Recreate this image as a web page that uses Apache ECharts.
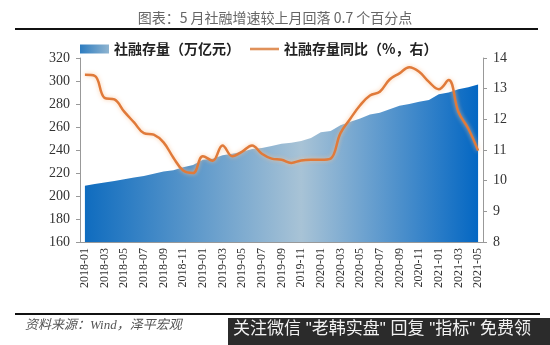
<!DOCTYPE html>
<html><head><meta charset="utf-8">
<script src="https://cdn.jsdelivr.net/npm/echarts@6/dist/echarts.min.js"></script>
<style>html,body{margin:0;padding:0;background:#fff}#c{width:550px;height:345px}</style>
</head><body><div id="c"></div>
<script>
const months = ['2018-01','2018-02','2018-03','2018-04','2018-05','2018-06','2018-07','2018-08','2018-09','2018-10','2018-11','2018-12',
'2019-01','2019-02','2019-03','2019-04','2019-05','2019-06','2019-07','2019-08','2019-09','2019-10','2019-11','2019-12',
'2020-01','2020-02','2020-03','2020-04','2020-05','2020-06','2020-07','2020-08','2020-09','2020-10','2020-11','2020-12',
'2021-01','2021-02','2021-03','2021-04','2021-05'];
const stock = [209.0,210.5,211.8,213.0,214.5,216.0,217.5,219.3,221.2,222.5,225.0,227.0,
231.5,232.5,235.5,236.8,238.5,240.8,241.8,243.5,245.5,246.3,247.8,250.5,
255.5,256.5,261.5,264.5,267.5,270.8,272.5,275.5,278.5,280.0,282.0,283.5,
288.5,290.0,292.8,294.5,297.0];
const yoy = [13.45,13.42,12.7,12.65,12.25,11.9,11.55,11.5,11.25,10.75,10.33,10.25,
10.8,10.65,11.15,10.8,10.95,11.15,10.88,10.72,10.68,10.58,10.66,10.68,
10.68,10.72,11.55,12.02,12.46,12.78,12.9,13.3,13.5,13.7,13.55,13.22,
12.98,13.28,12.24,11.7,10.98];
const leftTicks = [160,320,20];
const rightTicks = [8,14,1];
const nameStock = '社融存量（万亿元）';
const nameYoy = '社融存量同比（%，右）';

const grad = new echarts.graphic.LinearGradient(0,0,1,0,[
  {offset:0,color:'#0f6cbf'},{offset:0.55,color:'#a8c3d6'},{offset:1,color:'#0467c3'}]);
const gradLegend = new echarts.graphic.LinearGradient(0,0,1,0,[
  {offset:0,color:'#2c7cc0'},{offset:1,color:'#8fb4d0'}]);

const chart = echarts.init(document.getElementById('c'));
chart.setOption({
  animation:false,
  title:{text:'图表：5 月社融增速较上月回落 0.7 个百分点',left:'center',top:6,
    textStyle:{fontSize:14,fontWeight:'normal',color:'#666',fontFamily:'"Noto Sans CJK SC"'}},
  legend:{left:75,top:37,itemGap:10,
    textStyle:{fontSize:14,fontWeight:'bold',color:'#222',fontFamily:'"Noto Sans CJK SC"'},
    data:[{name:nameStock,icon:'rect',itemStyle:{color:gradLegend}},
          {name:nameYoy,icon:'path://M0,0 L28,0 L28,2.5 L0,2.5 Z',itemStyle:{color:'#e0915a'}}],
    itemWidth:29,itemHeight:9},
  grid:{left:80,right:67,top:58,bottom:103},
  xAxis:{type:'category',data:months,boundaryGap:true,
    axisLine:{lineStyle:{color:'#999'}},
    axisTick:{interval:1,length:4,lineStyle:{color:'#999'}},
    axisLabel:{interval:1,rotate:90,fontSize:12,color:'#333',fontFamily:'"Liberation Serif"',margin:6}},
  yAxis:[
    {type:'value',min:leftTicks[0],max:leftTicks[1],interval:leftTicks[2],
     splitLine:{show:false},axisLine:{show:true,lineStyle:{color:'#999'}},
     axisTick:{show:true,length:4,lineStyle:{color:'#999'}},
     axisLabel:{fontSize:14,color:'#333',fontFamily:'"Liberation Serif"',margin:10}},
    {type:'value',min:rightTicks[0],max:rightTicks[1],interval:rightTicks[2],position:'right',
     splitLine:{show:false},axisLine:{show:true,lineStyle:{color:'#999'}},
     axisTick:{show:true,length:4,lineStyle:{color:'#999'}},
     axisLabel:{fontSize:14,color:'#333',fontFamily:'"Liberation Serif"',margin:10}}
  ],
  series:[
    {name:nameStock,type:'line',data:stock,yAxisIndex:0,symbol:'none',
     lineStyle:{width:0},itemStyle:{color:gradLegend},areaStyle:{color:grad,opacity:1}},
    {name:nameYoy,type:'line',data:yoy,yAxisIndex:1,symbol:'none',smooth:0.4,
     lineStyle:{width:2.5,color:'#e07a3a',shadowColor:'rgba(250,190,140,0.8)',shadowBlur:4},
     itemStyle:{color:'#e07a3a'}}
  ],
  graphic:[
    {type:'line',shape:{x1:15,y1:29,x2:538,y2:29},style:{stroke:'#111',lineWidth:2}},
    {type:'line',shape:{x1:15,y1:314,x2:540,y2:314},style:{stroke:'#111',lineWidth:2}},
    {type:'text',left:25,top:319,style:{text:'资料来源：Wind，泽平宏观',fontSize:13,fontStyle:'italic',
      fill:'#555',fontFamily:'"Liberation Serif","Noto Sans CJK SC"'}},
    {type:'rect',shape:{x:228,y:318,width:322,height:27},style:{fill:'#2b2b2b'}},
    {type:'text',left:233,top:321,style:{text:'关注微信 "老韩实盘" 回复 "指标" 免费领',fontSize:17,
      fill:'#f2f2f2',fontFamily:'"Liberation Sans","Noto Sans CJK SC"'}}
  ]
});
</script></body></html>
